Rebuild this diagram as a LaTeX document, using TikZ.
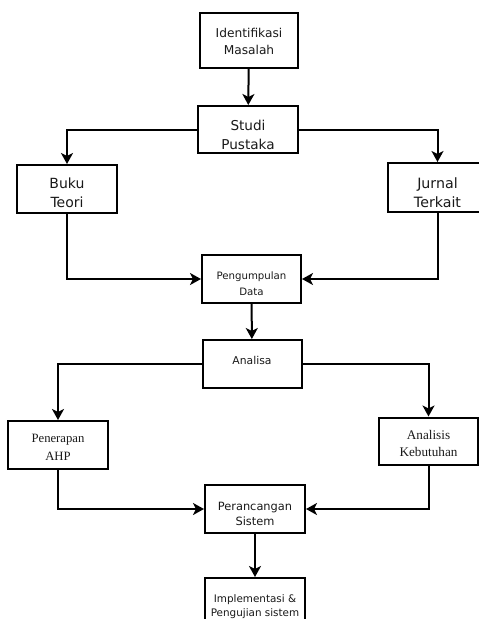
\documentclass[tikz,border=0pt]{standalone}
\usepackage{fontspec}
\setmainfont{DejaVu Sans}
\newfontfamily\serifface{Liberation Serif}
\usetikzlibrary{arrows.meta}
\begin{document}
\begin{tikzpicture}[x=1pt,y=-1pt,
  box/.style={draw=black, line width=2pt, rectangle, inner sep=0pt},
  txt/.style={align=center, text=black!90, inner sep=0pt},
  arr/.style={line width=2pt, -{Stealth[length=11pt,width=12pt,inset=3pt]}}]
\useasboundingbox (0,0) rectangle (479,619);
\clip (0,0) rectangle (479,619);
% boxes
\node[box, minimum width=98pt, minimum height=55pt] (im) at (249,40.5) {};
\node[box, minimum width=100pt, minimum height=47pt] (sp) at (248,129.5) {};
\node[box, minimum width=100pt, minimum height=48pt] (bt) at (67,189) {};
\node[box, minimum width=100pt, minimum height=49pt] (jt) at (437.5,187.5) {};
\node[box, minimum width=99pt, minimum height=48pt] (pd) at (251.5,279) {};
\node[box, minimum width=99pt, minimum height=48pt] (an) at (252,364) {};
\node[box, minimum width=100pt, minimum height=48pt] (pa) at (58,445) {};
\node[box, minimum width=99pt, minimum height=47pt] (ak) at (428.5,441) {};
\node[box, minimum width=100pt, minimum height=48pt] (ps) at (255,509) {};
\node[box, minimum width=100pt, minimum height=60pt, anchor=north] (ip) at (255,577) {};
% texts
\node[txt, font={\fontsize{12.2}{16.7}\selectfont}] (imt) at ([yshift=-1pt]im.center) {Identifikasi\\Masalah};
\node[txt, font={\fontsize{13.6}{19}\selectfont}] (spt) at ([yshift=-5pt]sp.center) {Studi\\Pustaka};
\node[txt, font={\fontsize{14}{19.3}\selectfont}] (btt) at ([yshift=-4pt]bt.center) {Buku\\Teori};
\node[txt, font={\fontsize{14.2}{19}\selectfont}] (jtt) at ([yshift=-5pt]jt.center) {Jurnal\\Terkait};
\node[txt, font={\fontsize{10.2}{16}\selectfont}] (pdt) at ([yshift=-5pt]pd.center) {Pengumpulan\\Data};
\node[txt, font={\fontsize{10.8}{16}\selectfont}] (ant) at ([yshift=4pt]an.center) {Analisa};
\node[txt, font={\serifface\fontsize{12.7}{18}\selectfont}] (pat) at ([yshift=-2.5pt]pa.center) {Penerapan\\AHP};
\node[txt, font={\serifface\fontsize{13.2}{17.5}\selectfont}] (akt) at ([yshift=-2.5pt]ak.center) {Analisis\\Kebutuhan};
\node[txt, font={\fontsize{11.4}{15.5}\selectfont}] (pst) at ([yshift=-5pt]ps.center) {Perancangan\\Sistem};
\node[txt, font={\fontsize{10.4}{14}\selectfont}] (ipt) at (255,606.5) {Implementasi \&\\Pengujian sistem};
% connectors
\draw[arr] (im) -- (sp);
\draw[arr] (sp.west) -| (bt.north);
\draw[arr] (sp.east) -| (jt.north);
\draw[arr] (bt.south) |- (pd.west);
\draw[arr] (jt.south) |- (pd.east);
\draw[arr] (pd) -- (an);
\draw[arr] (an.west) -| (pa.north);
\draw[arr] (an.east) -| (ak.north);
\draw[arr] (pa.south) |- (ps.west);
\draw[arr] (ak.south) |- (ps.east);
\draw[arr] (ps) -- (ip);
\end{tikzpicture}
\end{document}
